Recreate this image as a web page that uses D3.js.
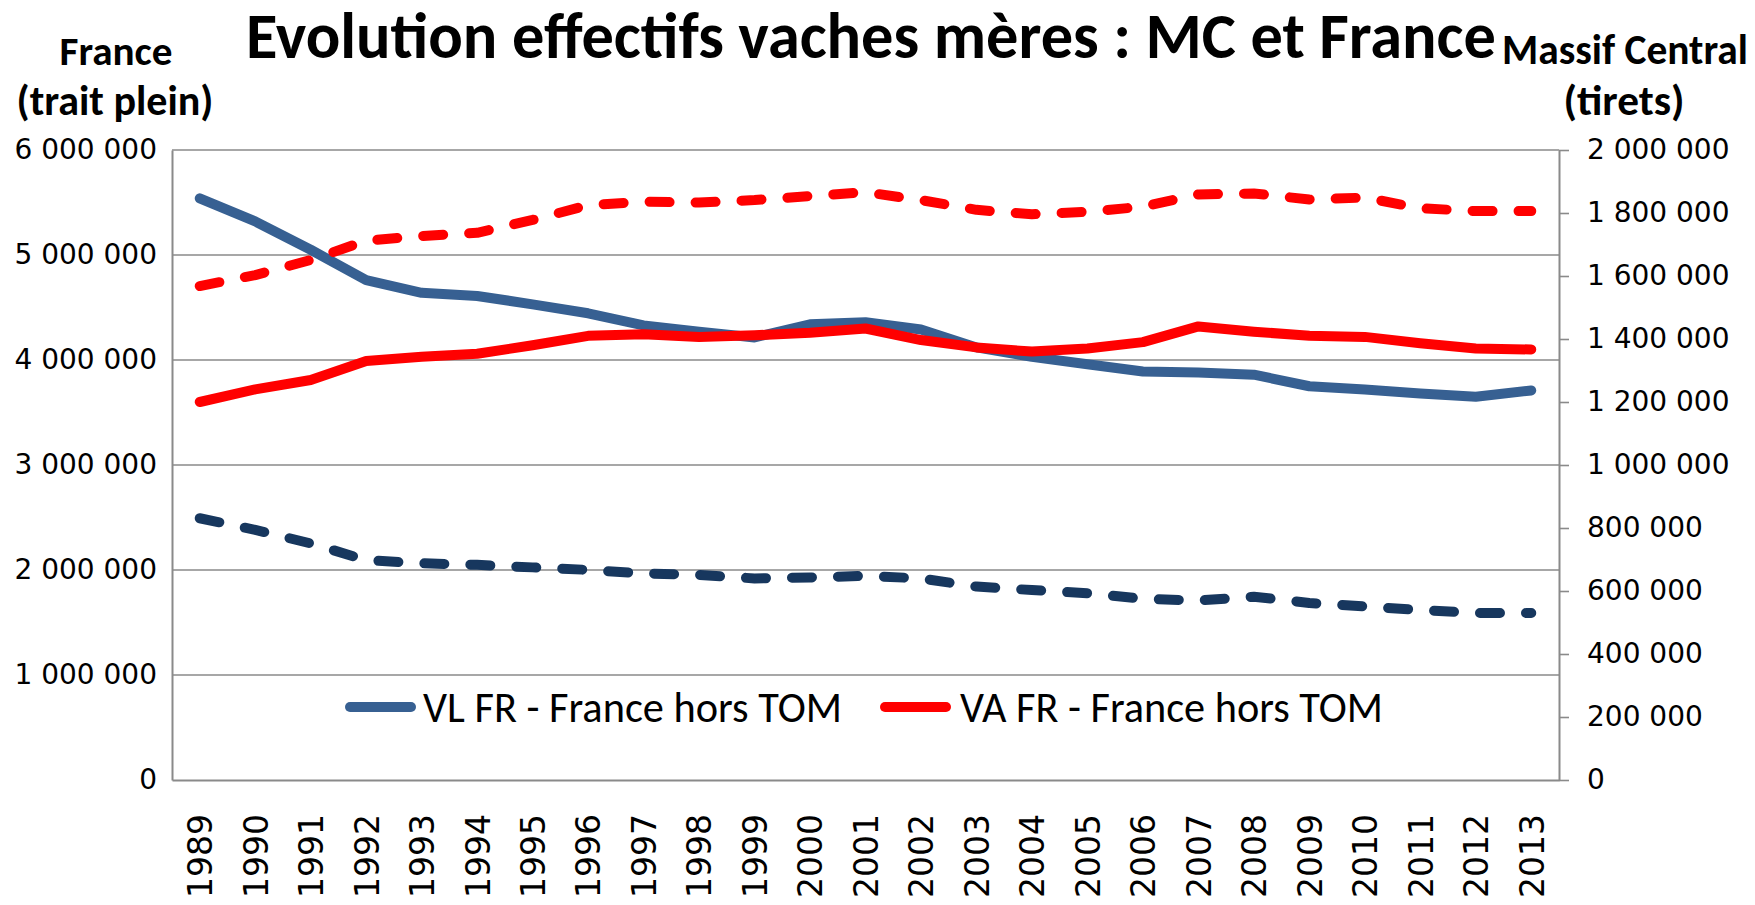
<!DOCTYPE html>
<html>
<head>
<meta charset="utf-8">
<script src="https://cdn.jsdelivr.net/npm/d3@7"></script>
<style>
  html, body { margin: 0; padding: 0; background: #fff; }
  svg { display: block; }
</style>
</head>
<body>
<svg id="chart" width="1755" height="905"></svg>
<script>
// ---------------- data ----------------
const years = [1989,1990,1991,1992,1993,1994,1995,1996,1997,1998,1999,2000,2001,2002,2003,2004,2005,2006,2007,2008,2009,2010,2011,2012,2013];

// France (left axis, solid)
const vlFR = [5540000,5320000,5050000,4760000,4640000,4610000,4530000,4445000,4330000,4270000,4215000,4340000,4360000,4290000,4120000,4030000,3960000,3890000,3880000,3860000,3750000,3720000,3680000,3650000,3710000];
const vaFR = [3600000,3720000,3810000,3990000,4030000,4060000,4140000,4230000,4245000,4220000,4235000,4260000,4300000,4190000,4120000,4080000,4110000,4170000,4320000,4270000,4230000,4220000,4160000,4110000,4100000];

// Massif Central (right axis, dashed)
const vlMC = [831000,794000,751000,698000,688000,683000,675000,667000,656000,651000,640000,643000,648000,640000,614000,603000,593000,575000,570000,582000,562000,551000,540000,530000,530000];
const vaMC = [1568000,1603000,1651000,1712000,1727000,1737000,1778000,1825000,1836000,1833000,1841000,1854000,1866000,1841000,1810000,1796000,1804000,1820000,1859000,1862000,1843000,1849000,1815000,1806000,1806000];

const leftTicks  = [0,1000000,2000000,3000000,4000000,5000000,6000000];
const rightTicks = [0,200000,400000,600000,800000,1000000,1200000,1400000,1600000,1800000,2000000];

const legendLabels = ["VL FR - France hors TOM", "VA FR - France hors TOM"];
const titleText = "Evolution effectifs vaches mères : MC et France";
const leftTitle = ["France", "(trait plein)"];
const rightTitle = ["Massif Central", "(tirets)"];

// ---------------- layout ----------------
const colBlue = "#376092", colNavy = "#17375E", colRed = "#FF0000", colGrid = "#8a8a8a";
const X0 = 172, X1 = 1559, YT = 150, YB = 780;
const LW = 10;

const svg = d3.select("#chart");

const x = d3.scalePoint().domain(years).range([X0, X1]).padding(0.5);
const yL = d3.scaleLinear().domain([0, 6000000]).range([YB, YT]);
const yR = d3.scaleLinear().domain([0, 2000000]).range([YB, YT]);

const fmt = v => d3.format(",")(v).replace(/,/g, "\u00a0");

function fit(sel, w) {
  const base = parseFloat(sel.style("font-size"));
  const len = sel.node().getComputedTextLength();
  sel.style("font-size", (base * w / len) + "px");
}

// gridlines
svg.append("g").selectAll("line").data(leftTicks.filter(d => d > 0)).join("line")
  .attr("x1", X0).attr("x2", X1)
  .attr("y1", d => yL(d)).attr("y2", d => yL(d))
  .attr("stroke", colGrid).attr("stroke-width", 1.6);

// left axis
const gL = svg.append("g").attr("transform", `translate(${X0},0)`)
  .call(d3.axisLeft(yL).tickValues(leftTicks).tickFormat(fmt).tickSize(0).tickPadding(15));
gL.select(".domain").attr("stroke", colGrid).attr("stroke-width", 2);
gL.selectAll("text").style("font-family", "'DejaVu Sans', Verdana, sans-serif").style("font-size", "28px").attr("fill", "#000");

// right axis
const gR = svg.append("g").attr("transform", `translate(${X1},0)`)
  .call(d3.axisRight(yR).tickValues(rightTicks).tickFormat(fmt).tickSize(10).tickSizeOuter(0).tickPadding(18));
gR.select(".domain").attr("stroke", colGrid).attr("stroke-width", 2);
gR.selectAll(".tick line").attr("stroke", colGrid).attr("stroke-width", 1.6);
gR.selectAll("text").style("font-family", "'DejaVu Sans', Verdana, sans-serif").style("font-size", "28px").attr("fill", "#000");

// bottom axis
const gB = svg.append("g").attr("transform", `translate(0,${YB})`)
  .call(d3.axisBottom(x).tickSize(0).tickSizeOuter(0));
gB.select(".domain").attr("stroke", colGrid).attr("stroke-width", 2);
gB.selectAll("text")
  .style("font-family", "'DejaVu Sans', Verdana, sans-serif").style("font-size", "33px").attr("fill", "#000")
  .attr("transform", "rotate(-90)")
  .attr("text-anchor", "end")
  .attr("x", -34).attr("y", 0).attr("dy", "0.36em");

// lines
const lineL = d3.line().x((d, i) => x(years[i])).y(d => yL(d));
const lineR = d3.line().x((d, i) => x(years[i])).y(d => yR(d));

const series = [
  { data: vlFR, gen: lineL, color: colBlue, dash: null },
  { data: vaFR, gen: lineL, color: colRed, dash: null },
  { data: vlMC, gen: lineR, color: colNavy, dash: "20 26" },
  { data: vaMC, gen: lineR, color: colRed, dash: "20 26" }
];
svg.append("g").selectAll("path").data(series).join("path")
  .attr("d", s => s.gen(s.data))
  .attr("fill", "none")
  .attr("stroke", s => s.color)
  .attr("stroke-width", LW)
  .attr("stroke-linecap", "round")
  .attr("stroke-linejoin", "round")
  .attr("stroke-dasharray", s => s.dash);

// legend
const legendItems = [
  { label: legendLabels[0], color: colBlue, x: 345, tx: 423, w: 419 },
  { label: legendLabels[1], color: colRed, x: 880, tx: 960, w: 423 }
];
const LY = 707;
const lg = svg.append("g");
legendItems.forEach(it => {
  lg.append("line").attr("x1", it.x + 5).attr("x2", it.x + 66).attr("y1", LY).attr("y2", LY)
    .attr("stroke", it.color).attr("stroke-width", LW).attr("stroke-linecap", "round");
  const t = lg.append("text").attr("x", it.tx).attr("y", LY).attr("dy", "0.35em")
    .style("font-family", "Carlito, Calibri, Lato, sans-serif").style("font-size", "42px").attr("fill", "#000")
    .text(it.label);
  fit(t, it.w);
});

// titles
const title = svg.append("text").attr("x", 871).attr("y", 58).attr("text-anchor", "middle")
  .style("font-family", "Carlito, Calibri, Lato, sans-serif").style("font-weight", "bold").style("font-size", "54px")
  .attr("fill", "#000").text(titleText);
fit(title, 1250);

const lt1 = svg.append("text").attr("x", 116).attr("y", 65).attr("text-anchor", "middle")
  .style("font-family", "Carlito, Calibri, Lato, sans-serif").style("font-weight", "bold").style("font-size", "35px")
  .text(leftTitle[0]);
fit(lt1, 113);
const lt2 = svg.append("text").attr("x", 115).attr("y", 115).attr("text-anchor", "middle")
  .style("font-family", "Carlito, Calibri, Lato, sans-serif").style("font-weight", "bold").style("font-size", "35px")
  .text(leftTitle[1]);
fit(lt2, 197);
const rt1 = svg.append("text").attr("x", 1625).attr("y", 64).attr("text-anchor", "middle")
  .style("font-family", "Carlito, Calibri, Lato, sans-serif").style("font-weight", "bold").style("font-size", "35px")
  .text(rightTitle[0]);
fit(rt1, 246);
const rt2 = svg.append("text").attr("x", 1624).attr("y", 115).attr("text-anchor", "middle")
  .style("font-family", "Carlito, Calibri, Lato, sans-serif").style("font-weight", "bold").style("font-size", "35px")
  .text(rightTitle[1]);
fit(rt2, 121);
</script>
</body>
</html>
